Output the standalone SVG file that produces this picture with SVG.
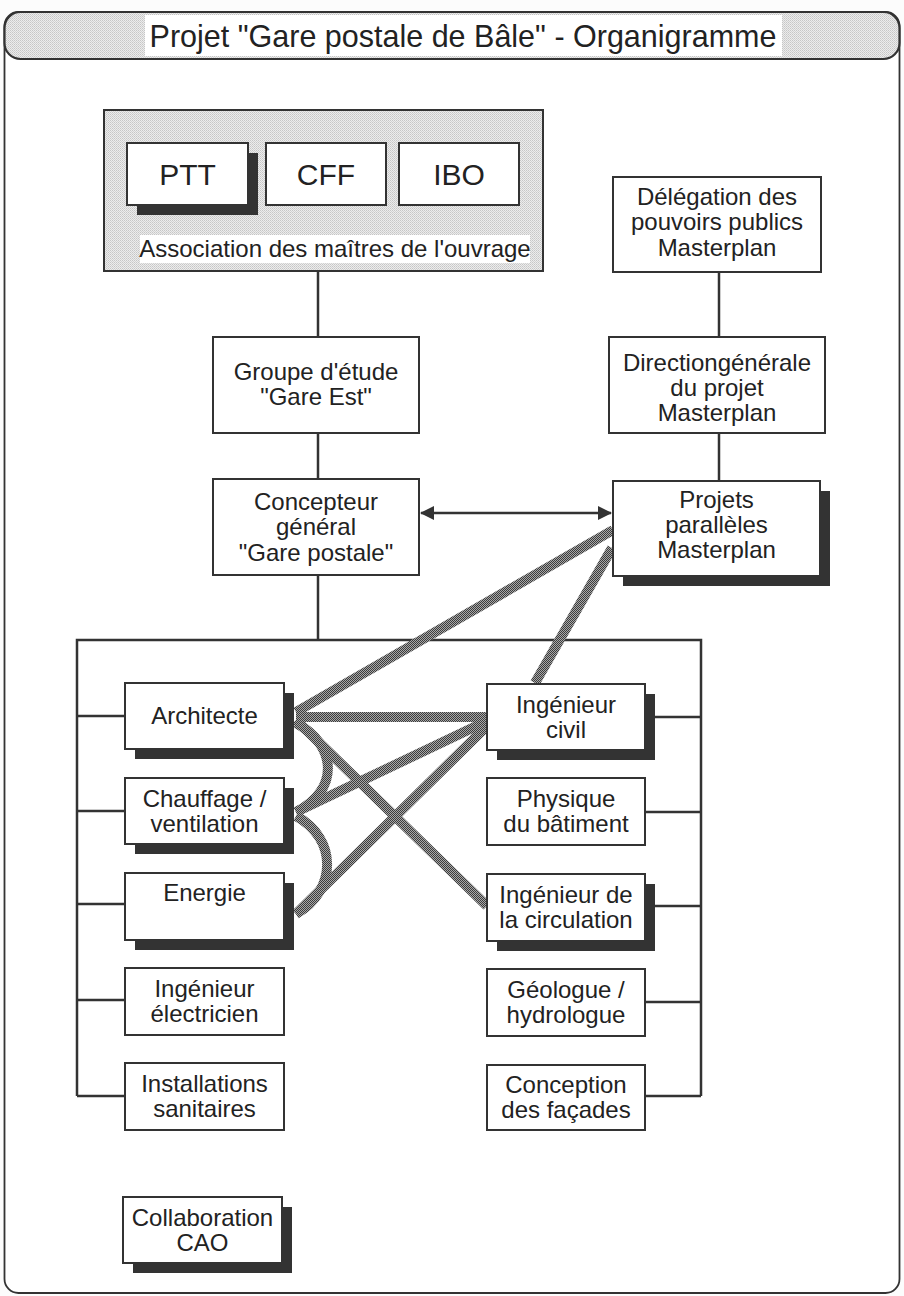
<svg xmlns="http://www.w3.org/2000/svg" width="904" height="1296" viewBox="0 0 904 1296">
  <defs>
    <pattern id="stipple" width="2" height="2" patternUnits="userSpaceOnUse">
      <rect width="2" height="2" fill="#a8a8a8"/>
      <rect width="1" height="1" fill="#3c3c3c"/>
      <rect x="1" y="1" width="1" height="1" fill="#3c3c3c"/>
    </pattern>
    <pattern id="light" width="2" height="2" patternUnits="userSpaceOnUse">
      <rect width="2" height="2" fill="#ececec"/>
      <rect width="1" height="1" fill="#c6c6c6"/>
      <rect x="1" y="1" width="1" height="1" fill="#d2d2d2"/>
    </pattern>
    <marker id="ah" viewBox="0 0 14 14" refX="13" refY="7" markerWidth="14" markerHeight="14" markerUnits="userSpaceOnUse" orient="auto-start-reverse">
      <path d="M0,0 L14,7 L0,14 Z" fill="#333"/>
    </marker>
    <style>
      .box{fill:#fff;stroke:#333;stroke-width:2}
      .sh{fill:#333}
      .t{font-family:"Liberation Sans",Arial,sans-serif;font-size:24px;fill:#222;text-anchor:middle}
      .big{font-size:30px}
      .ttl{font-size:30.5px}
      .ln{stroke:#333;stroke-width:2.5;fill:none}
      .gl{stroke:url(#stipple);stroke-width:10;fill:none;stroke-linecap:butt}
    </style>
  </defs>
  <rect width="904" height="1296" fill="#fcfcfc"/>

  <g id="frame">
    <rect x="4.5" y="12" width="895" height="1281" rx="14" fill="#fff" stroke="#333" stroke-width="1.8"/>
  </g>

  <g id="title">
    <rect x="4.5" y="12" width="895" height="47" rx="16" fill="url(#light)" stroke="#333" stroke-width="2.2"/>
    <rect x="145" y="15" width="637" height="41" fill="#fff"/>
    <text class="t ttl" x="463" y="47">Projet "Gare postale de Bâle" - Organigramme</text>
  </g>

  <g id="connectors">
    <line class="ln" x1="318" y1="271" x2="318" y2="337"/>
    <line class="ln" x1="318" y1="433" x2="318" y2="479"/>
    <line class="ln" x1="318" y1="575" x2="318" y2="640"/>
    <line class="ln" x1="719" y1="272" x2="719" y2="337"/>
    <line class="ln" x1="719" y1="433" x2="719" y2="481"/>
    <line class="ln" x1="421" y1="513" x2="611" y2="513" marker-start="url(#ah)" marker-end="url(#ah)"/>
    <polyline class="ln" points="77,1096 77,640 701,640 701,1096"/>
    <line class="ln" x1="77" y1="716" x2="125" y2="716"/>
    <line class="ln" x1="77" y1="811" x2="125" y2="811"/>
    <line class="ln" x1="77" y1="904" x2="125" y2="904"/>
    <line class="ln" x1="77" y1="1000" x2="125" y2="1000"/>
    <line class="ln" x1="77" y1="1096" x2="125" y2="1096"/>
    <line class="ln" x1="645" y1="717" x2="701" y2="717"/>
    <line class="ln" x1="645" y1="812" x2="701" y2="812"/>
    <line class="ln" x1="645" y1="906" x2="701" y2="906"/>
    <line class="ln" x1="645" y1="1002" x2="701" y2="1002"/>
    <line class="ln" x1="645" y1="1096" x2="701" y2="1096"/>
    <g id="links">
      <path class="gl" d="M613,530 L296,712"/>
      <path class="gl" d="M612,548 L535,683"/>
      <path class="gl" d="M296,717 L487,717"/>
      <path class="gl" d="M296,720 L487,906"/>
      <path class="gl" d="M296,723 C337,745 340,790 296,812"/>
      <path class="gl" d="M296,812 L487,721"/>
      <path class="gl" d="M296,816 C337,838 338,890 296,914"/>
      <path class="gl" d="M296,914 L487,726"/>
    </g>
  </g>

  <g id="assoc">
    <rect x="104" y="110" width="439" height="161" fill="url(#light)" stroke="#333" stroke-width="2"/>
    <rect x="140" y="235" width="390" height="28" fill="#fff"/>
    <text class="t" x="335" y="257">Association des maîtres de l'ouvrage</text>
  </g>
  <g id="ptt">
    <rect class="sh" x="137" y="153" width="121" height="62"/>
    <rect class="box" x="127" y="143" width="121" height="62"/>
    <text class="t big" x="187.5" y="185">PTT</text>
  </g>
  <g id="cff">
    <rect class="box" x="266" y="143" width="120" height="62"/>
    <text class="t big" x="326" y="185">CFF</text>
  </g>
  <g id="ibo">
    <rect class="box" x="399" y="143" width="120" height="62"/>
    <text class="t big" x="459" y="185">IBO</text>
  </g>

  <g id="delegation">
    <rect class="box" x="613" y="177" width="208" height="95"/>
    <text class="t" x="717" y="205">Délégation des</text>
    <text class="t" x="717" y="230">pouvoirs publics</text>
    <text class="t" x="717" y="256">Masterplan</text>
  </g>
  <g id="direction">
    <rect class="box" x="609" y="337" width="216" height="96"/>
    <text class="t" x="717" y="371">Directiongénérale</text>
    <text class="t" x="717" y="396">du projet</text>
    <text class="t" x="717" y="421">Masterplan</text>
  </g>
  <g id="projets">
    <rect class="sh" x="623" y="491" width="207" height="95"/>
    <rect class="box" x="613" y="481" width="207" height="95"/>
    <text class="t" x="716.5" y="508">Projets</text>
    <text class="t" x="716.5" y="533">parallèles</text>
    <text class="t" x="716.5" y="558">Masterplan</text>
  </g>
  <g id="groupe">
    <rect class="box" x="213" y="337" width="206" height="96"/>
    <text class="t" x="316" y="380">Groupe d'étude</text>
    <text class="t" x="316" y="405">"Gare Est"</text>
  </g>
  <g id="concepteur">
    <rect class="box" x="213" y="479" width="206" height="96"/>
    <text class="t" x="316" y="510">Concepteur</text>
    <text class="t" x="316" y="535">général</text>
    <text class="t" x="316" y="561">"Gare postale"</text>
  </g>

  <g id="architecte">
    <rect class="sh" x="135" y="693" width="159" height="66"/>
    <rect class="box" x="125" y="683" width="159" height="66"/>
    <text class="t" x="204.5" y="724">Architecte</text>
  </g>
  <g id="chauffage">
    <rect class="sh" x="135" y="788" width="159" height="66"/>
    <rect class="box" x="125" y="778" width="159" height="66"/>
    <text class="t" x="204.5" y="807">Chauffage /</text>
    <text class="t" x="204.5" y="832">ventilation</text>
  </g>
  <g id="energie">
    <rect class="sh" x="135" y="883" width="159" height="67"/>
    <rect class="box" x="125" y="873" width="159" height="67"/>
    <text class="t" x="204.5" y="901">Energie</text>
  </g>
  <g id="electricien">
    <rect class="box" x="125" y="968" width="159" height="67"/>
    <text class="t" x="204.5" y="997">Ingénieur</text>
    <text class="t" x="204.5" y="1022">électricien</text>
  </g>
  <g id="sanitaires">
    <rect class="box" x="125" y="1063" width="159" height="67"/>
    <text class="t" x="204.5" y="1092">Installations</text>
    <text class="t" x="204.5" y="1117">sanitaires</text>
  </g>

  <g id="civil">
    <rect class="sh" x="497" y="694" width="158" height="66"/>
    <rect class="box" x="487" y="684" width="158" height="66"/>
    <text class="t" x="566" y="713">Ingénieur</text>
    <text class="t" x="566" y="738">civil</text>
  </g>
  <g id="physique">
    <rect class="box" x="487" y="778" width="158" height="67"/>
    <text class="t" x="566" y="807">Physique</text>
    <text class="t" x="566" y="832">du bâtiment</text>
  </g>
  <g id="circulation">
    <rect class="sh" x="497" y="884" width="158" height="67"/>
    <rect class="box" x="487" y="874" width="158" height="67"/>
    <text class="t" x="566" y="903">Ingénieur de</text>
    <text class="t" x="566" y="928">la circulation</text>
  </g>
  <g id="geologue">
    <rect class="box" x="487" y="969" width="158" height="67"/>
    <text class="t" x="566" y="998">Géologue /</text>
    <text class="t" x="566" y="1023">hydrologue</text>
  </g>
  <g id="facades">
    <rect class="box" x="487" y="1065" width="158" height="65"/>
    <text class="t" x="566" y="1093">Conception</text>
    <text class="t" x="566" y="1118">des façades</text>
  </g>

  <g id="cao">
    <rect class="sh" x="133" y="1207" width="159" height="66"/>
    <rect class="box" x="123" y="1197" width="159" height="66"/>
    <text class="t" x="202.5" y="1226">Collaboration</text>
    <text class="t" x="202.5" y="1251">CAO</text>
  </g>
</svg>
